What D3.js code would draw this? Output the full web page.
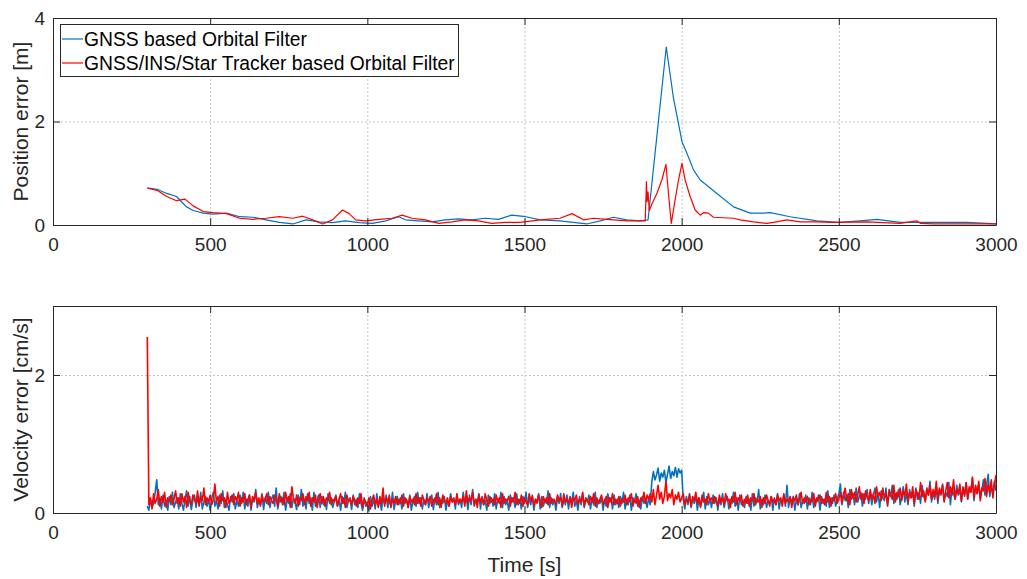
<!DOCTYPE html>
<html lang="en">
<head>
    <meta charset="UTF-8">
    <title>Orbital filter errors</title>
    <script src="https://d3js.org/d3.v7.min.js"></script>
</head>
<body>
<style>
    body{ margin: 0; background: #fff; }
    svg{ font-family: "Liberation Sans", Arial, sans-serif; }
    .axis text{ fill: #262626; font-size: 19px; }
    .axis path, .axis line{ stroke: #262626; }
    .grid line{ stroke: #c4c4c4; stroke-dasharray: 2,2; }
    .grid path{ display: none; }
</style>
<script>
    // legend / series names
    const seriesNames = ["GNSS based Orbital Filter", "GNSS/INS/Star Tracker based Orbital Filter"];
    const seriesColors = ["#0072bd", "#ff0000"];

    const xTicks = [0, 500, 1000, 1500, 2000, 2500, 3000];
    const posTicks = [0, 2, 4];
    const velTicks = [0, 2];

    // position error [m], GNSS only (blue)
    const posBlueT = [300, 331, 362, 393, 409, 425, 446, 478, 509, 552, 594, 636, 678, 720, 763, 805, 847, 889, 931, 974,
        1016, 1058, 1100, 1121, 1163, 1206, 1248, 1290, 1332, 1374, 1417, 1459, 1504, 1550, 1613, 1698, 1741, 1783, 1826, 1868,
        1893, 1951, 1974, 2001, 2017, 2038, 2059, 2112, 2165, 2218, 2261, 2282, 2345, 2430, 2501, 2568, 2621, 2695, 2801, 2908, 3000];
    const posBlueV = [0.72, 0.69, 0.61, 0.55, 0.45, 0.35, 0.28, 0.23, 0.21, 0.23, 0.16, 0.15, 0.10, 0.05, 0.02, 0.10, 0.06, 0.045, 0.08, 0.045,
        0.03, 0.08, 0.16, 0.10, 0.08, 0.06, 0.10, 0.12, 0.10, 0.13, 0.11, 0.19, 0.16, 0.10, 0.08, 0.02, 0.08, 0.15, 0.10, 0.08,
        0.10, 3.44, 2.45, 1.61, 1.38, 1.06, 0.87, 0.61, 0.35, 0.23, 0.23, 0.24, 0.16, 0.08, 0.05, 0.08, 0.11, 0.05, 0.05, 0.05, 0.02];

    // position error [m], GNSS/INS/Star Tracker (red)
    const posRedT = [300, 331, 362, 393, 420, 446, 478, 509, 552, 594, 636, 678, 720, 763, 794, 826, 858, 889, 921, 942,
        963, 995, 1037, 1079, 1111, 1142, 1185, 1227, 1269, 1311, 1353, 1396, 1438, 1486, 1550, 1613, 1651, 1688, 1720, 1762,
        1826, 1884, 1888, 1890, 1893, 1897, 1905, 1921, 1937, 1950, 1958, 1967, 1979, 1990, 2001, 2011, 2027, 2043, 2059, 2070,
        2085, 2101, 2165, 2186, 2229, 2271, 2292, 2335, 2377, 2430, 2483, 2589, 2695, 2748, 2760, 2801, 3000];
    const posRedV = [0.71, 0.67, 0.55, 0.47, 0.50, 0.37, 0.26, 0.24, 0.22, 0.13, 0.11, 0.13, 0.16, 0.13, 0.17, 0.10, 0.02, 0.10, 0.29, 0.22,
        0.10, 0.08, 0.11, 0.13, 0.19, 0.13, 0.10, 0.03, 0.06, 0.10, 0.08, 0.03, 0.05, 0.05, 0.10, 0.13, 0.22, 0.10, 0.13, 0.11,
        0.08, 0.08, 0.84, 0.45, 0.64, 0.28, 0.40, 0.61, 0.87, 1.17, 0.61, 0.03, 0.48, 0.87, 1.19, 0.87, 0.55, 0.29, 0.19, 0.24,
        0.23, 0.15, 0.13, 0.10, 0.06, 0.03, 0.05, 0.10, 0.06, 0.06, 0.05, 0.06, 0.03, 0.08, 0.03, 0.02, 0.02];

    // velocity error [cm/s], sampled every 5 s from 300 to 3000 (one row = 100 s)
    const velT = d3.range(300, 3001, 5);
    const velBlue = [
        0.10,0.04,0.20,0.08,0.14,0.30,0.48,0.12,0.22,0.06,0.26,0.10,0.18,0.04,0.24,0.12,0.30,0.08,0.16,0.22,
        0.06,0.28,0.14,0.04,0.20,0.32,0.10,0.24,0.05,0.18,0.26,0.08,0.22,0.12,0.30,0.06,0.16,0.24,0.10,0.20,
        0.04,0.22,0.30,0.10,0.18,0.06,0.26,0.14,0.32,0.08,0.20,0.12,0.04,0.24,0.16,0.28,0.06,0.18,0.10,0.26,
        0.14,0.30,0.06,0.20,0.10,0.26,0.04,0.22,0.16,0.34,0.08,0.18,0.12,0.28,0.05,0.22,0.14,0.30,0.08,0.20,
        0.26,0.10,0.36,0.06,0.18,0.24,0.12,0.30,0.04,0.20,0.14,0.28,0.08,0.22,0.16,0.05,0.26,0.12,0.34,0.10,
        0.20,0.06,0.28,0.14,0.22,0.04,0.30,0.10,0.18,0.26,0.08,0.24,0.12,0.20,0.05,0.28,0.14,0.22,0.08,0.18,
        0.26,0.10,0.20,0.04,0.24,0.14,0.30,0.08,0.18,0.22,0.05,0.26,0.12,0.20,0.08,0.28,0.14,0.04,0.22,0.10,
        0.16,0.03,0.24,0.10,0.20,0.06,0.28,0.12,0.18,0.04,0.22,0.14,0.26,0.08,0.20,0.10,0.30,0.05,0.18,0.24,
        0.12,0.22,0.06,0.28,0.14,0.20,0.08,0.26,0.04,0.18,0.24,0.10,0.30,0.14,0.22,0.06,0.20,0.12,0.28,0.08,
        0.18,0.26,0.05,0.22,0.12,0.30,0.08,0.20,0.14,0.24,0.04,0.18,0.10,0.28,0.16,0.22,0.06,0.26,0.12,0.20,
        0.08,0.30,0.14,0.22,0.05,0.26,0.12,0.34,0.10,0.20,0.16,0.28,0.06,0.24,0.12,0.18,0.04,0.26,0.14,0.22,
        0.10,0.28,0.06,0.20,0.14,0.30,0.08,0.24,0.12,0.18,0.04,0.26,0.16,0.22,0.08,0.28,0.12,0.20,0.06,0.24,
        0.14,0.30,0.08,0.22,0.12,0.26,0.04,0.20,0.16,0.28,0.06,0.24,0.10,0.18,0.14,0.32,0.08,0.22,0.12,0.20,
        0.04,0.24,0.14,0.28,0.08,0.20,0.12,0.26,0.06,0.22,0.16,0.30,0.10,0.18,0.04,0.24,0.12,0.28,0.08,0.20,
        0.16,0.26,0.06,0.22,0.12,0.30,0.08,0.18,0.14,0.24,0.04,0.20,0.10,0.28,0.16,0.22,0.06,0.26,0.12,0.20,
        0.08,0.24,0.14,0.30,0.06,0.20,0.12,0.26,0.04,0.22,0.16,0.28,0.10,0.18,0.06,0.24,0.14,0.20,0.08,0.22,
        0.12,0.45,0.60,0.48,0.55,0.65,0.46,0.58,0.52,0.62,0.44,0.56,0.68,0.50,0.60,0.54,0.66,0.52,0.64,0.58,
        0.62,0.20,0.06,0.24,0.12,0.28,0.08,0.20,0.14,0.26,0.04,0.22,0.10,0.18,0.30,0.06,0.24,0.12,0.20,0.08,
        0.26,0.14,0.22,0.04,0.20,0.12,0.28,0.08,0.18,0.24,0.06,0.20,0.14,0.30,0.10,0.22,0.04,0.26,0.12,0.18,
        0.08,0.24,0.14,0.20,0.04,0.28,0.10,0.22,0.16,0.34,0.06,0.20,0.12,0.26,0.08,0.18,0.14,0.24,0.04,0.22,
        0.12,0.28,0.06,0.20,0.14,0.26,0.10,0.40,0.08,0.22,0.16,0.24,0.04,0.20,0.12,0.28,0.08,0.18,0.14,0.26,
        0.06,0.22,0.12,0.30,0.08,0.20,0.16,0.26,0.04,0.24,0.14,0.20,0.10,0.32,0.08,0.22,0.14,0.26,0.10,0.20,
        0.28,0.42,0.12,0.30,0.18,0.26,0.08,0.34,0.20,0.28,0.12,0.36,0.16,0.24,0.30,0.10,0.28,0.20,0.34,0.14,
        0.30,0.12,0.26,0.36,0.16,0.28,0.08,0.32,0.22,0.18,0.36,0.10,0.30,0.24,0.40,0.14,0.28,0.20,0.34,0.12,
        0.26,0.38,0.16,0.30,0.12,0.34,0.22,0.28,0.10,0.36,0.20,0.30,0.14,0.40,0.24,0.18,0.34,0.26,0.46,0.16,
        0.30,0.20,0.38,0.14,0.34,0.26,0.42,0.18,0.30,0.24,0.44,0.12,0.36,0.28,0.20,0.40,0.26,0.34,0.16,0.38,
        0.24,0.44,0.20,0.36,0.30,0.50,0.18,0.38,0.28,0.42,0.22,0.34,0.48,0.26,0.40,0.56,0.24,0.36,0.30,0.46,
        0.32];
    const velRed = [
        2.55,0.12,0.22,0.06,0.28,0.14,0.20,0.34,0.10,0.24,0.16,0.30,0.08,0.22,0.18,0.26,0.12,0.20,0.32,0.14,
        0.22,0.10,0.28,0.16,0.24,0.08,0.30,0.18,0.12,0.26,0.20,0.14,0.32,0.10,0.24,0.18,0.36,0.12,0.22,0.16,
        0.26,0.12,0.20,0.42,0.16,0.24,0.10,0.28,0.18,0.22,0.08,0.30,0.14,0.20,0.26,0.12,0.24,0.18,0.30,0.10,
        0.22,0.16,0.28,0.12,0.20,0.26,0.08,0.24,0.18,0.30,0.14,0.22,0.10,0.26,0.16,0.20,0.28,0.12,0.24,0.18,
        0.14,0.26,0.20,0.10,0.28,0.16,0.22,0.12,0.30,0.18,0.24,0.08,0.38,0.20,0.14,0.26,0.10,0.22,0.18,0.28,
        0.12,0.24,0.18,0.30,0.10,0.22,0.16,0.26,0.08,0.20,0.28,0.14,0.24,0.10,0.22,0.18,0.30,0.12,0.20,0.16,
        0.24,0.10,0.20,0.28,0.14,0.22,0.08,0.26,0.16,0.20,0.12,0.24,0.18,0.10,0.22,0.14,0.28,0.08,0.20,0.16,
        0.10,0.22,0.06,0.18,0.26,0.12,0.20,0.08,0.24,0.14,0.36,0.10,0.22,0.16,0.26,0.08,0.20,0.14,0.24,0.12,
        0.20,0.14,0.26,0.10,0.22,0.18,0.08,0.24,0.16,0.20,0.12,0.28,0.14,0.22,0.10,0.26,0.18,0.12,0.22,0.16,
        0.24,0.10,0.20,0.16,0.28,0.12,0.22,0.08,0.26,0.18,0.14,0.22,0.10,0.24,0.16,0.20,0.12,0.28,0.14,0.20,
        0.16,0.24,0.10,0.32,0.14,0.22,0.18,0.30,0.12,0.20,0.08,0.26,0.16,0.22,0.12,0.28,0.18,0.10,0.24,0.16,
        0.20,0.12,0.26,0.16,0.22,0.08,0.28,0.14,0.20,0.18,0.24,0.10,0.22,0.16,0.30,0.12,0.20,0.14,0.26,0.10,
        0.22,0.16,0.12,0.28,0.18,0.24,0.10,0.20,0.14,0.26,0.18,0.08,0.24,0.16,0.22,0.12,0.28,0.14,0.20,0.18,
        0.12,0.26,0.18,0.22,0.10,0.28,0.16,0.20,0.14,0.24,0.08,0.22,0.18,0.26,0.12,0.20,0.16,0.30,0.10,0.22,
        0.18,0.12,0.24,0.16,0.28,0.10,0.22,0.14,0.20,0.26,0.12,0.18,0.24,0.08,0.22,0.16,0.28,0.12,0.20,0.14,
        0.24,0.10,0.20,0.16,0.26,0.12,0.22,0.18,0.28,0.10,0.20,0.14,0.24,0.08,0.22,0.18,0.30,0.14,0.26,0.20,
        0.28,0.16,0.34,0.12,0.26,0.40,0.20,0.30,0.14,0.24,0.46,0.18,0.28,0.22,0.34,0.12,0.26,0.20,0.30,0.16,
        0.22,0.28,0.12,0.20,0.16,0.26,0.10,0.24,0.18,0.30,0.14,0.22,0.08,0.26,0.16,0.20,0.12,0.28,0.18,0.22,
        0.14,0.24,0.18,0.10,0.26,0.16,0.22,0.12,0.28,0.18,0.20,0.08,0.24,0.16,0.30,0.12,0.22,0.18,0.26,0.10,
        0.20,0.14,0.26,0.10,0.22,0.18,0.28,0.12,0.20,0.16,0.24,0.08,0.22,0.14,0.26,0.18,0.10,0.24,0.16,0.20,
        0.12,0.26,0.18,0.22,0.10,0.28,0.14,0.20,0.16,0.24,0.08,0.22,0.18,0.26,0.12,0.20,0.30,0.14,0.22,0.16,
        0.24,0.12,0.20,0.16,0.28,0.10,0.22,0.18,0.26,0.14,0.20,0.12,0.30,0.16,0.24,0.10,0.22,0.18,0.28,0.14,
        0.20,0.30,0.14,0.26,0.36,0.18,0.28,0.12,0.34,0.22,0.30,0.16,0.26,0.38,0.20,0.28,0.14,0.32,0.24,0.18,
        0.34,0.20,0.28,0.14,0.38,0.24,0.30,0.18,0.36,0.22,0.28,0.12,0.34,0.26,0.20,0.40,0.16,0.30,0.24,0.36,
        0.18,0.32,0.26,0.42,0.16,0.30,0.22,0.38,0.14,0.34,0.28,0.20,0.44,0.24,0.32,0.16,0.36,0.26,0.40,0.20,
        0.34,0.24,0.46,0.18,0.36,0.28,0.40,0.16,0.32,0.44,0.22,0.38,0.26,0.48,0.20,0.34,0.28,0.42,0.18,0.36,
        0.26,0.44,0.20,0.38,0.30,0.52,0.22,0.40,0.28,0.46,0.18,0.36,0.32,0.50,0.24,0.42,0.30,0.48,0.22,0.40,
        0.55];

    const width = 1027, height = 579;
    const left = 53, right = 996;

    let svg = d3.select("body")
        .append("svg")
        .attr("width", width)
        .attr("height", height);

    const x = d3.scaleLinear().domain([0, 3000]).range([left, right]);
    const fmt = d3.format("d");

    // draws one subplot: grid, box with inward ticks, lines
    function panel(top, bottom, yMax, yTicks, label, series, lineWidth) {
        const y = d3.scaleLinear().domain([0, yMax]).range([bottom, top]);
        const g = svg.append("g");

        g.append("g").attr("class", "grid")
            .attr("transform", "translate(0," + bottom + ")")
            .call(d3.axisBottom(x).tickValues(xTicks).tickSize(-(bottom - top)).tickFormat(""));
        g.append("g").attr("class", "grid")
            .attr("transform", "translate(" + left + ",0)")
            .call(d3.axisLeft(y).tickValues(yTicks).tickSize(-(right - left)).tickFormat(""));

        const line = d3.line().x(d => x(d[0])).y(d => y(d[1]));
        series.forEach(function(s, i){
            g.append("path")
                .datum(d3.zip(s[0], s[1]))
                .attr("fill", "none")
                .attr("stroke", seriesColors[i])
                .attr("stroke-width", lineWidth)
                .attr("stroke-linejoin", "round")
                .attr("d", line);
        });

        g.append("g").attr("class", "axis")
            .attr("transform", "translate(0," + bottom + ")")
            .call(d3.axisBottom(x).tickValues(xTicks).tickFormat(fmt).tickSizeInner(-7).tickSizeOuter(0).tickPadding(13));
        g.append("g").attr("class", "axis")
            .attr("transform", "translate(0," + top + ")")
            .call(d3.axisTop(x).tickValues(xTicks).tickSizeInner(-7).tickSizeOuter(0).tickFormat(""));
        g.append("g").attr("class", "axis")
            .attr("transform", "translate(" + left + ",0)")
            .call(d3.axisLeft(y).tickValues(yTicks).tickFormat(fmt).tickSizeInner(-7).tickSizeOuter(0).tickPadding(8));
        g.append("g").attr("class", "axis")
            .attr("transform", "translate(" + right + ",0)")
            .call(d3.axisRight(y).tickValues(yTicks).tickSizeInner(-7).tickSizeOuter(0).tickFormat(""));

        g.append("text")
            .attr("transform", "translate(22," + ((top + bottom) / 2) + ") rotate(-90)")
            .attr("text-anchor", "middle")
            .attr("dominant-baseline", "middle")
            .attr("font-size", 21)
            .attr("fill", "#262626")
            .text(label);
        return y;
    }

    panel(18, 225, 4, posTicks, "Position error [m]", [[posBlueT, posBlueV], [posRedT, posRedV]], 1.2);
    panel(306, 513, 3, velTicks, "Velocity error [cm/s]", [[velT, velBlue], [velT, velRed]], 1.6);

    svg.append("text")
        .attr("x", (left + right) / 2)
        .attr("y", 572)
        .attr("text-anchor", "middle")
        .attr("font-size", 21)
        .attr("fill", "#262626")
        .text("Time [s]");

    // legend
    let legend = svg.append("g");
    legend.append("rect")
        .attr("x", 60.5).attr("y", 24.5)
        .attr("width", 398).attr("height", 52)
        .attr("fill", "#fff").attr("stroke", "#262626");
    legend.selectAll(".item")
        .data(seriesNames)
        .enter()
        .append("g")
        .each(function(d, i){
            const ly = 39 + i * 24;
            d3.select(this).append("line")
                .attr("x1", 62).attr("x2", 83)
                .attr("y1", ly).attr("y2", ly)
                .attr("stroke", seriesColors[i]).attr("stroke-width", 1.2);
            d3.select(this).append("text")
                .attr("x", 84).attr("y", ly + 7)
                .attr("font-size", 19.3)
                .attr("fill", "#000")
                .text(d);
        });
</script>
</body>
</html>
